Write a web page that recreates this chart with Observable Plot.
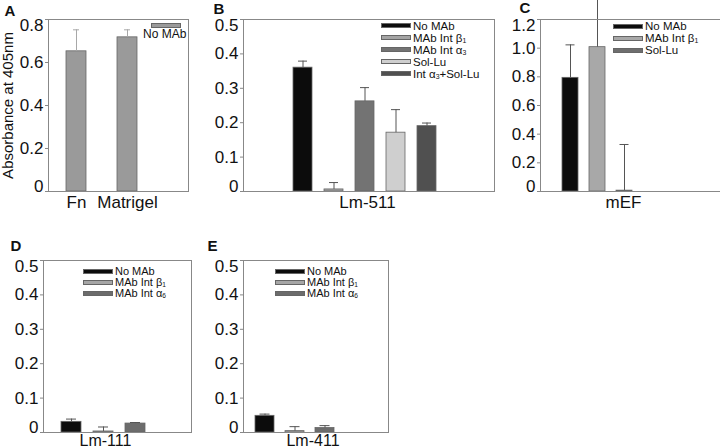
<!DOCTYPE html>
<html><head><meta charset="utf-8">
<script src="https://cdn.jsdelivr.net/npm/d3@7"></script>
<script src="https://cdn.jsdelivr.net/npm/@observablehq/plot@0.6"></script>
<style>
body{margin:0;background:#fff;}
#fig{position:relative;width:720px;height:448px;overflow:hidden;font-family:"Liberation Sans",Arial,Helvetica,sans-serif;background:#fff;}
.panel{position:absolute;}
.legend{position:absolute;color:#111;white-space:nowrap;}
.row{display:flex;align-items:center;}
.sw{box-sizing:border-box;border:1px solid #666;margin-right:2px;flex:none;}
.legend sub{font-size:0.6em;vertical-align:-0.2em;line-height:0;}
</style></head><body><div id="fig"></div>
<script>
// ---- data ----
const catsA = ["Fn", "Matrigel"];
const seriesA = ["No MAb"];
const valuesA = [0.652, 0.717];
const errsA = [0.100, 0.035];
const ticksA = [0, 0.2, 0.4, 0.6, 0.8];
const yLabelA = "Absorbance at 405nm";

const groupB = "Lm-511";
const catsB = ["No MAb", "MAb Int β1", "MAb Int α3", "Sol-Lu", "Int α3+Sol-Lu"];
const valuesB = [0.360, 0.006, 0.262, 0.171, 0.190];
const errsB = [0.019, 0.020, 0.040, 0.067, 0.009];
const ticksB = [0, 0.1, 0.2, 0.3, 0.4, 0.5];

const groupC = "mEF";
const catsC = ["No MAb", "MAb Int β1", "Sol-Lu"];
const valuesC = [0.793, 1.007, 0.006];
const errsC = [0.230, 0.340, 0.322];
const ticksC = [0, 0.2, 0.4, 0.6, 0.8, 1.0, 1.2];

const groupD = "Lm-111";
const catsD = ["No MAb", "MAb Int β1", "MAb Int α6"];
const valuesD = [0.031, 0.003, 0.026];
const errsD = [0.008, 0.013, 0.003];
const ticksD = [0, 0.1, 0.2, 0.3, 0.4, 0.5];

const groupE = "Lm-411";
const catsE = ["No MAb", "MAb Int β1", "MAb Int α6"];
const valuesE = [0.0485, 0.004, 0.013];
const errsE = [0.005, 0.013, 0.007];
const ticksE = [0, 0.1, 0.2, 0.3, 0.4, 0.5];

// ---- styles ----
const colorsA = ["#9a9a9a", "#9a9a9a"];
const colorsB = ["#0c0c0c", "#a4a4a4", "#737373", "#cfcfcf", "#505050"];
const colorsC = ["#0c0c0c", "#a8a8a8", "#6e6e6e"];
const colorsDE = ["#0c0c0c", "#a6a6a6", "#6c6c6c"];
const FONT = "Liberation Sans, Arial, Helvetica, sans-serif";
const fmt = d => d === 0 ? "0" : d.toFixed(1);

const fig = document.getElementById("fig");

function drawPanel(p) {
  const data = p.cats.map((c, i) => ({cat: c, value: p.values[i], err: p.errs[i]}));
  const topTick = p.yTicks[p.yTicks.length - 1];
  const midTicks = p.yTicks.slice(1, -1);
  const lab = {tickFormat: fmt, tickSize: 0, tickPadding: 5, fontSize: 17, label: null, fill: "#111"};
  const marks = [
    Plot.barY(data, {x: "cat", y: "value", fill: "cat", stroke: "#666", strokeWidth: 0.8}),
    Plot.ruleX(data, {x: "cat", y1: "value", y2: d => d.value + d.err, stroke: p.errColor}),
    Plot.tickY(data, {x: "cat", y: d => d.value + d.err, stroke: p.errColor, insetLeft: p.capInset, insetRight: p.capInset}),
    Plot.frame({stroke: "#888"}),
    Plot.axisY({ticks: p.yTicks, tickFormat: () => "", tickSize: 3, label: null, stroke: "#888"}),
    Plot.axisY({ticks: midTicks, ...lab}),
    Plot.axisY({ticks: [topTick], ...lab, dy: 6}),
    Plot.axisY({ticks: [0], ...lab, dy: -5}),
    Plot.text([p.letter], {frameAnchor: "top-left", text: d => d, dx: p.letterDx, dy: p.letterDy, lineAnchor: "top", textAnchor: "start", fontWeight: "bold", fontSize: 15, fill: "#111"})
  ];
  if (p.group) {
    marks.push(Plot.text([p.group], {frameAnchor: "bottom", text: d => d, dx: p.groupDx, dy: p.groupDy, lineAnchor: "top", fontSize: p.groupSize, fill: "#111"}));
  } else {
    marks.push(Plot.axisX({tickSize: 0, tickPadding: 4, fontSize: 17, label: null, fill: "#111"}));
  }
  if (p.yLabel) {
    marks.push(Plot.text([p.yLabel], {frameAnchor: "left", text: d => d, rotate: -90, dx: -40, textAnchor: "middle", lineAnchor: "middle", fontSize: 15, fill: "#111"}));
  }
  const svg = Plot.plot({
    width: p.width, height: p.height,
    marginLeft: p.ml, marginRight: p.mr, marginTop: p.mt, marginBottom: p.mb,
    style: {background: "transparent", overflow: "visible", fontFamily: FONT},
    x: {domain: p.cats, paddingInner: p.pi, paddingOuter: p.po, align: p.align, axis: p.group ? null : undefined, label: null},
    y: {domain: [0, p.yMax], label: null},
    color: {domain: p.cats, range: p.colors},
    marks
  });
  const wrap = document.createElement("div");
  wrap.className = "panel";
  wrap.style.left = p.left + "px";
  wrap.style.top = p.top + "px";
  wrap.appendChild(svg);
  fig.appendChild(wrap);
}

function sub(s) { return s.replace(/([αβ])(\d)/g, "$1<sub>$2</sub>"); }

function drawLegend(l) {
  const div = document.createElement("div");
  div.className = "legend";
  div.style.left = l.left + "px";
  div.style.top = l.top + "px";
  div.style.fontSize = l.fontSize + "px";
  div.style.lineHeight = l.rowH + "px";
  l.labels.forEach((lab, i) => {
    const row = document.createElement("div");
    row.className = "row";
    row.style.height = l.rowH + "px";
    const sw = document.createElement("div");
    sw.className = "sw";
    sw.style.width = l.swW + "px";
    sw.style.height = l.swH + "px";
    sw.style.background = l.colors[i];
    const t = document.createElement("span");
    t.innerHTML = sub(lab);
    row.appendChild(sw);
    row.appendChild(t);
    div.appendChild(row);
  });
  fig.appendChild(div);
}

// Panel A
drawPanel({left: 0, top: 0, width: 200, height: 225, ml: 48, mr: 12, mt: 19, mb: 34,
  cats: catsA, values: valuesA, errs: errsA, colors: colorsA, yMax: 0.8, yTicks: ticksA,
  pi: 0.608, po: 0.676, align: 0.26, capInset: 7, errColor: "#a8a8a8",
  letter: "A", letterDx: -44, letterDy: -14, yLabel: yLabelA});
// Panel B
drawPanel({left: 200, top: 0, width: 300, height: 225, ml: 43, mr: 6, mt: 19, mb: 34,
  cats: catsB, values: valuesB, errs: errsB, colors: colorsB, yMax: 0.5, yTicks: ticksB,
  pi: 0.373, po: 1.72, align: 0.464, capInset: 5, errColor: "#555",
  letter: "B", letterDx: -30, letterDy: -16, group: groupB, groupDx: -1.5, groupDy: 4, groupSize: 17});
// Panel C
drawPanel({left: 500, top: 0, width: 220, height: 225, ml: 40, mr: 0, mt: 19, mb: 34,
  cats: catsC, values: valuesC, errs: errsC, colors: colorsC, yMax: 1.2, yTicks: ticksC,
  pi: 0.4, po: 1.97, align: 0.203, capInset: 3.5, errColor: "#555",
  letter: "C", letterDx: -21, letterDy: -17, group: groupC, groupDx: -7, groupDy: 4, groupSize: 17});
// Panel D
drawPanel({left: 0, top: 230, width: 200, height: 218, ml: 43, mr: 9, mt: 30, mb: 16,
  cats: catsD, values: valuesD, errs: errsD, colors: colorsDE, yMax: 0.5, yTicks: ticksD,
  pi: 0.376, po: 0.94, align: 0.275, capInset: 5, errColor: "#555",
  letter: "D", letterDx: -33, letterDy: -20, group: groupD, groupDx: -12, groupDy: 2.5, groupSize: 16});
// Panel E
drawPanel({left: 200, top: 230, width: 200, height: 218, ml: 43, mr: 12, mt: 30, mb: 16,
  cats: catsE, values: valuesE, errs: errsE, colors: colorsDE, yMax: 0.5, yTicks: ticksE,
  pi: 0.377, po: 1.065, align: 0.185, capInset: 4.5, errColor: "#555",
  letter: "E", letterDx: -36, letterDy: -20, group: groupE, groupDx: -3, groupDy: 2.5, groupSize: 16});

// Legend A (swatch above its label)
(function(){
  const div = document.createElement("div");
  div.className = "legend";
  div.style.left = "143px"; div.style.top = "23px";
  div.style.fontSize = "12px"; div.style.lineHeight = "13px";
  const sw = document.createElement("div");
  sw.className = "sw";
  sw.style.width = "30px"; sw.style.height = "5px"; sw.style.background = colorsA[0];
  sw.style.marginLeft = "8px";
  const t = document.createElement("div");
  t.textContent = seriesA[0];
  div.appendChild(sw); div.appendChild(t);
  fig.appendChild(div);
})();
drawLegend({left: 381, top: 19.5, fontSize: 11.5, rowH: 12, swW: 30, swH: 5, labels: catsB, colors: colorsB});
drawLegend({left: 613, top: 20, fontSize: 11.5, rowH: 12, swW: 30, swH: 5, labels: catsC, colors: colorsC});
drawLegend({left: 83, top: 265.5, fontSize: 11, rowH: 11.2, swW: 30, swH: 5, labels: catsD, colors: colorsDE});
drawLegend({left: 275, top: 265.5, fontSize: 11, rowH: 11.2, swW: 30, swH: 5, labels: catsE, colors: colorsDE});
</script></body></html>
